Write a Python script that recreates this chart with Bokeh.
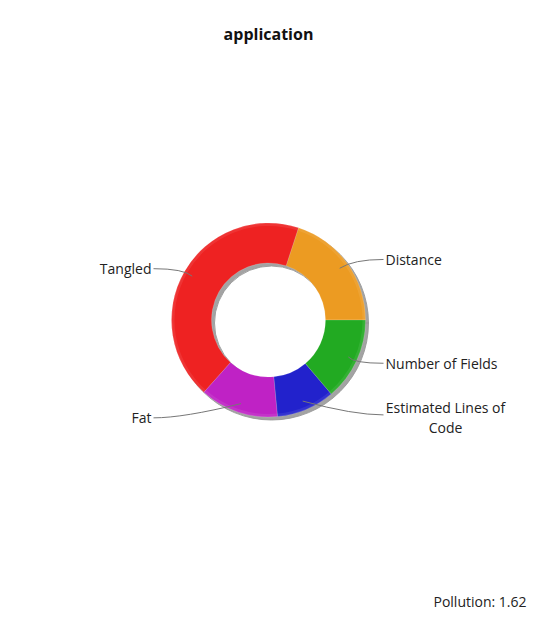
import math
from bokeh.plotting import figure
from bokeh.models import Range1d
from bokeh.core.properties import value
from bokeh.embed import file_html
from bokeh.resources import INLINE

title_text = "application"
labels = ["Distance", "Tangled", "Fat", "Estimated Lines of Code", "Number of Fields"]
values = [20.0, 43.4, 13.1, 9.7, 13.8]
colors = ["#EC9B22", "#EE2222", "#BF22C5", "#2222CC", "#22AA22"]
pollution = 1.62

W, H = 536, 620
p = figure(width=528, height=612, x_range=Range1d(0, 528), y_range=Range1d(H - 612, H),
           output_backend="svg", toolbar_location=None, title=None,
           x_axis_type=None, y_axis_type=None, min_border=0)
p.grid.visible = False
p.outline_line_color = None
p.background_fill_color = "white"
p.border_fill_color = "white"

cx, cy = 268, H - 319.5
r_out, r_in = 97, 57

# shadow
p.annular_wedge(x=cx + 3, y=cy - 3, inner_radius=r_in, outer_radius=r_out,
                start_angle=0, end_angle=2 * math.pi, color="#999999", alpha=0.9)

total = sum(values)
starts, ends = [], []
acc = 0.0
for v in values:
    starts.append(2 * math.pi * acc / total)
    acc += v
    ends.append(2 * math.pi * acc / total)

p.annular_wedge(x=cx, y=cy, inner_radius=r_in, outer_radius=r_out,
                start_angle=starts, end_angle=ends, fill_color=colors,
                line_color="white", line_alpha=0.25, line_width=0.6)
# subtle highlight at outer edge
p.annular_wedge(x=cx, y=cy, inner_radius=r_out - 3, outer_radius=r_out,
                start_angle=starts, end_angle=ends, fill_color="white",
                fill_alpha=0.08, line_color=None)

def wrap(s, n=19):
    if len(s) <= n:
        return s
    cut = s.rfind(" ", 0, n)
    return s[:cut] + "\n" + s[cut + 1:]

font = value("Open Sans")
for lab, a0, a1 in zip(labels, starts, ends):
    mid = (a0 + a1) / 2
    sx = cx + 88 * math.cos(mid)
    sy = cy + 88 * math.sin(mid)
    side = 1 if math.cos(mid) >= 0 else -1
    ex = cx + side * 115
    ey = cy + 103 * math.sin(mid)
    p.quadratic(x0=[sx], y0=[sy], x1=[ex], y1=[ey],
                cx=[ex - side * 30], cy=[ey], line_color="#777777", line_width=1)
    txt = wrap(lab)
    if "\n" in txt:
        p.text(x=[ex + side * 62], y=[ey - 3], text=[txt], text_align="center",
               text_baseline="middle", text_font=font, text_font_size="14px",
               text_color="#222222", text_line_height=1.05)
    else:
        p.text(x=[ex + side * 2], y=[ey], text=[txt],
               text_align="left" if side > 0 else "right",
               text_baseline="middle", text_font=font, text_font_size="14px",
               text_color="#222222")

p.text(x=[W / 2], y=[H - 33], text=[title_text], text_align="center", text_baseline="middle",
       text_font=font, text_font_size="16px", text_font_style="bold", text_color="#111111")
p.text(x=[526], y=[H - 601], text=["Pollution: %.2f" % pollution], text_align="right",
       text_baseline="middle", text_font=font, text_font_size="14px", text_color="#222222")

open("out.html", "w").write(file_html(p, INLINE))
